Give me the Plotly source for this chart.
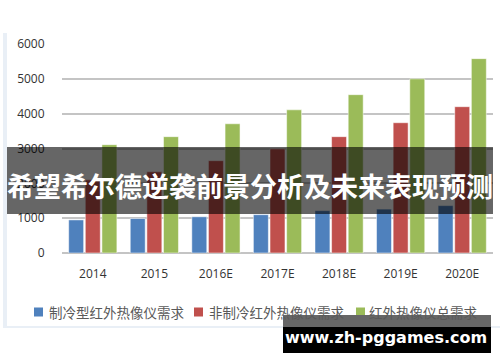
import plotly.graph_objects as go

categories = ["2014", "2015", "2016E", "2017E", "2018E", "2019E", "2020E"]
cooled = [950, 990, 1040, 1100, 1215, 1260, 1360]
uncooled = [2100, 2330, 2650, 2990, 3340, 3740, 4200]
total = [3110, 3340, 3710, 4110, 4545, 5000, 5580]
series_names = ["制冷型红外热像仪需求", "非制冷红外热像仪需求", "红外热像仪总需求"]
colors = ["#4f81bd", "#c0504d", "#9bbb59"]
y_ticks = [0, 1000, 2000, 3000, 4000, 5000, 6000]
banner_text = "希望希尔德逆袭前景分析及未来表现预测"
url_text = "www.zh-pggames.com"

W, H = 500, 362
L, R, T, B = 62, 7, 44, 109
PW, PH = W - L - R, H - T - B


def px(x):
    return (x - L) / PW


def py(y):
    return (H - B - y) / PH


fig = go.Figure()
for name, vals, c in zip(series_names, [cooled, uncooled, total], colors):
    fig.add_trace(go.Bar(x=categories, y=vals, name=name,
                         marker=dict(color=c, line=dict(color="rgba(255,255,255,0.5)", width=1)),
                         showlegend=False))

shapes = []
annotations = []
# panel border (left and bottom)
shapes.append(dict(type="rect", xref="paper", yref="paper", x0=px(3), x1=px(7), y0=py(327), y1=py(33),
                   fillcolor="#e9eff6", line=dict(width=0), layer="below"))
shapes.append(dict(type="line", xref="paper", yref="paper", x0=px(3), x1=px(500), y0=py(327), y1=py(327),
                   line=dict(color="#e9eff6", width=2), layer="below"))

# legend (manual)
leg = [(34, 47), (194, 207), (356, 367)]
for (sx, tx), name, c in zip(leg, series_names, colors):
    shapes.append(dict(type="rect", xref="paper", yref="paper", x0=px(sx), x1=px(sx + 9),
                       y0=py(316.5), y1=py(307.5), fillcolor=c, line=dict(width=0)))
    annotations.append(dict(xref="paper", yref="paper", x=px(tx), y=py(312), text=name, showarrow=False,
                            xanchor="left", yanchor="middle",
                            font=dict(family="Noto Sans CJK SC", size=13.5, color="#595959")))

# banner
shapes.append(dict(type="rect", xref="paper", yref="paper", x0=px(7), x1=px(493), y0=py(214), y1=py(147),
                   fillcolor="rgba(0,0,0,0.6)", line=dict(width=0)))
annotations.append(dict(xref="paper", yref="paper", x=px(250), y=py(185), text=banner_text, showarrow=False,
                        xanchor="center", yanchor="middle",
                        font=dict(family="Noto Sans CJK SC", size=27, color="white", weight="bold")))

# url box
shapes.append(dict(type="rect", xref="paper", yref="paper", x0=px(283), x1=px(491), y0=py(327), y1=py(315),
                   fillcolor="#666666", line=dict(width=0)))
shapes.append(dict(type="rect", xref="paper", yref="paper", x0=px(283), x1=px(491), y0=py(353), y1=py(327),
                   fillcolor="#000000", line=dict(width=0)))
annotations.append(dict(xref="paper", yref="paper", x=px(386), y=py(337), text=url_text, showarrow=False,
                        xanchor="center", yanchor="middle",
                        font=dict(family="DejaVu Sans", size=16, color="white", weight="bold")))

fig.update_layout(
    width=W, height=H,
    margin=dict(l=L, r=R, t=T, b=B),
    paper_bgcolor="white", plot_bgcolor="white",
    barmode="group", bargap=0.19, bargroupgap=0.1,
    shapes=shapes, annotations=annotations,
    xaxis=dict(showgrid=False, showline=False, ticks="outside", ticklen=10, tickcolor="rgba(0,0,0,0)",
               tickfont=dict(family="Open Sans", size=12, color="#333333")),
    yaxis=dict(range=[0, 6000], tickvals=y_ticks, showgrid=True, gridcolor="#c4c4c4", gridwidth=1.5,
               zeroline=True, zerolinecolor="#c4c4c4", zerolinewidth=1.5, showline=False,
               ticks="outside", ticklen=14, tickcolor="rgba(0,0,0,0)",
               tickfont=dict(family="Open Sans", size=12, color="#333333")),
)

fig.write_html("out.html", config={"displayModeBar": False},
               post_script="document.body.style.margin='0';document.body.style.overflow='hidden';")
